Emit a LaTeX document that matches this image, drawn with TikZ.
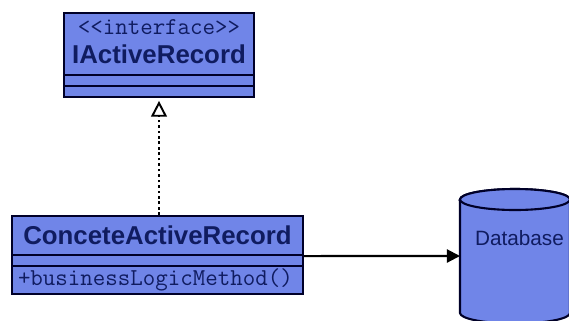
\documentclass[tikz,border=0pt]{standalone}
\usepackage{fontspec}
\setmainfont{Liberation Sans}
\usetikzlibrary{arrows.meta}
\definecolor{umlfill}{HTML}{7085E8}
\definecolor{umlline}{HTML}{000028}
\definecolor{umltext}{HTML}{101C60}
\tikzset{
  umlbox/.style={draw=umlline, fill=umlfill, line width=1.2pt, inner sep=0pt, text=umltext},
  umlname/.style={font=\bfseries\fontsize{14.7}{16}\selectfont},
  umlmono/.style={font=\ttfamily\fontsize{13.8}{14}\selectfont}
}
\begin{document}
\begin{tikzpicture}
\useasboundingbox (0, 0) rectangle (11.38, 6.4);

% interface
\node[umlbox, minimum width=3.8cm, minimum height=1.24cm] (ifacehead) at (3.18, 5.52) {};
\node[umlmono, text=umltext, inner sep=0pt] (ifacestereo) at (3.18, 5.85) {<{}<interface>{}>};
\node[umlname, text=umltext, inner sep=0pt] (ifacename) at (3.18, 5.32) {IActiveRecord};
\node[umlbox, minimum width=3.8cm, minimum height=0.22cm] (ifaceattr) at (3.18, 4.79) {};
\node[umlbox, minimum width=3.8cm, minimum height=0.22cm] (ifaceop) at (3.18, 4.57) {};

% concrete class
\node[umlbox, umlname, minimum width=5.82cm, minimum height=0.78cm] (conchead) at (3.15, 1.69) {ConceteActiveRecord};
\node[umlbox, minimum width=5.82cm, minimum height=0.22cm] (concattr) at (3.15, 1.19) {};
\node[umlbox, umlmono, minimum width=5.82cm, minimum height=0.56cm, text width=5.58cm, align=left] (concop) at (3.15, 0.8) {+businessLogicMethod()};

% database
\draw[umlbox] (9.2, 2.41) -- (9.2, 0.14) arc (180:360:1.1 and 0.21) -- (11.4, 2.41) arc (0:180:1.1 and 0.21) -- cycle;
\draw[umlbox] (10.3, 2.41) ellipse (1.1 and 0.21);
\node[minimum width=2.2cm, minimum height=2.4cm, inner sep=0pt, outer sep=0pt] (db) at (10.3, 1.28) {};
\node[text=umltext, font=\fontsize{11.8}{13}\selectfont, inner sep=0pt] (dbname) at (10.39, 1.64) {Database};

% connectors
\draw[line width=1.5pt, dash pattern=on 1.5pt off 1.6pt, -{Triangle[open, length=9pt, width=9pt, line width=1.1pt]}, shorten >=1.6pt] (conchead.north -| ifaceop.south) -- (ifaceop.south);
\draw[line width=1.2pt, -{Triangle[length=7.5pt, width=7.5pt]}] (conchead.south east) -- (db.west);
\end{tikzpicture}
\end{document}
